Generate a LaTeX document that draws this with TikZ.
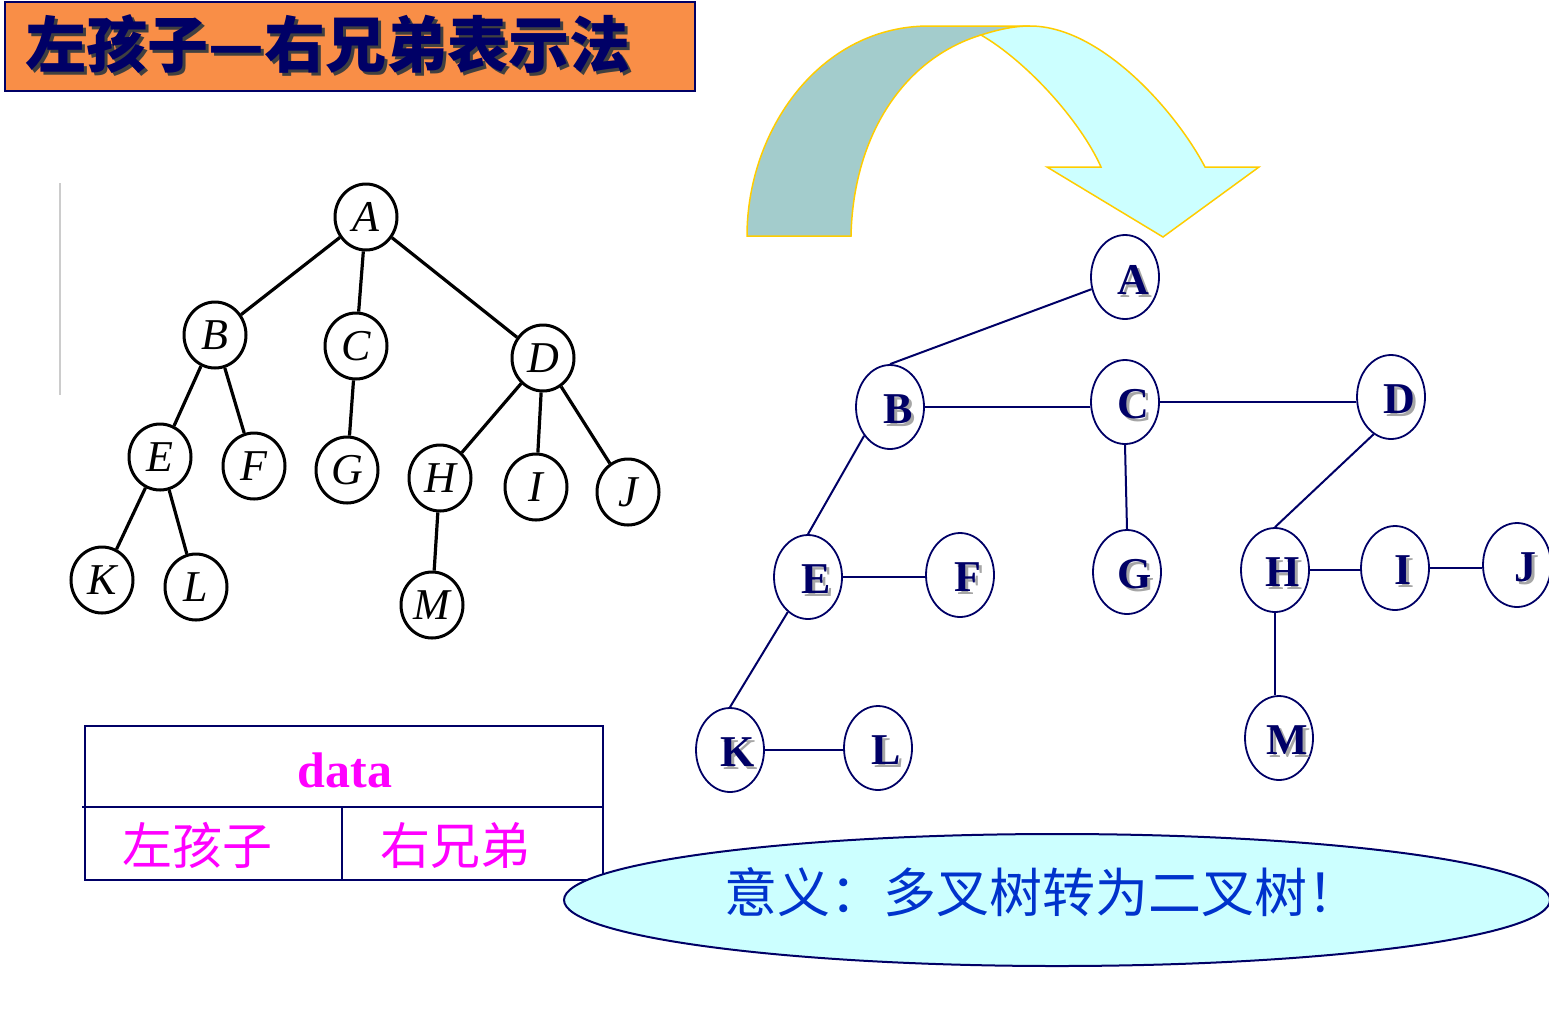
\documentclass[tikz,border=0pt]{standalone}
\usepackage{fontspec}
\setmainfont{Liberation Serif}
\newfontfamily\cjk{Noto Sans CJK SC}
\usepackage{xcolor}
\usetikzlibrary{shapes.geometric}

\definecolor{navy}{RGB}{0,0,102}
\definecolor{titleorange}{RGB}{249,142,71}
\definecolor{arrowgold}{RGB}{255,204,0}
\definecolor{arrowdark}{RGB}{163,204,204}
\definecolor{arrowlight}{RGB}{204,255,255}
\definecolor{textblue}{RGB}{0,51,204}
\definecolor{fieldpink}{RGB}{255,0,255}

% text with a drop shadow
\newcommand{\shadowed}[2]{\rlap{\kern3pt\raisebox{-3pt}{\textcolor{#1}{#2}}}#2}

\tikzset{
  treenode/.style={ellipse, draw, line width=3pt, minimum width=62, minimum height=66,
    inner sep=0pt, font=\fontsize{44}{50}\selectfont\itshape},
  treeedge/.style={line width=3.2pt},
  bnode/.style={ellipse, draw=navy, line width=1.8pt, minimum width=68, minimum height=84,
    inner sep=0pt, label={[font=\fontsize{44}{52}\selectfont\bfseries, text=navy,
    xshift=8pt, yshift=-4pt]center:\shadowed{gray!70}{#1}}},
  bedge/.style={navy, line width=2pt},
}

\begin{document}
\begin{tikzpicture}[x=1pt, y=-1pt]
    \useasboundingbox (0,0) rectangle (1549,1021);

    % Title
    \draw[navy, line width=2pt, fill=titleorange] (5,2) rectangle (695,91);
    \node[text=navy, font=\cjk\bfseries\fontsize{61}{66}\selectfont] (title) at (328,46)
        {\shadowed{black!75}{左孩子—右兄弟表示法}};

    % Scan edge
    \draw[gray!40, line width=2pt] (60,183) -- (60,395);

    % Ordinary tree
    \node[treenode] (A) at (366,217) {A};
    \node[treenode] (B) at (215,335) {B};
    \node[treenode] (C) at (356,346) {C};
    \node[treenode] (D) at (543,358) {D};
    \node[treenode] (E) at (160,457) {E};
    \node[treenode] (F) at (254,466) {F};
    \node[treenode] (G) at (347,470) {G};
    \node[treenode] (H) at (440,478) {H};
    \node[treenode] (I) at (536,487) {I};
    \node[treenode] (J) at (628,492) {J};
    \node[treenode] (K) at (102,580) {K};
    \node[treenode] (L) at (196,587) {L};
    \node[treenode] (M) at (432,605) {M};
    \foreach \u/\v in {A/B, A/C, A/D, B/E, B/F, C/G, D/H, D/I, D/J, E/K, E/L, H/M}
        \draw[treeedge] (\u) -- (\v);

    % Node layout table
    \draw[navy, line width=2pt] (85,726) rectangle (603,880);
    \draw[navy, line width=2pt] (82,807) -- (603,807);
    \draw[navy, line width=2pt] (342,807) -- (342,880);
    \node[text=fieldpink, font=\bfseries\fontsize{50}{56}\selectfont] (data) at (345,770) {data};
    \node[text=fieldpink, font=\cjk\fontsize{50}{56}\selectfont] (lchild) at (197,845) {左孩子};
    \node[text=fieldpink, font=\cjk\fontsize{50}{56}\selectfont] (rsib) at (455,845) {右兄弟};

    % Curved arrow
    \draw[arrowgold, line width=1.5pt, fill=arrowdark] (747,236)
        .. controls (747,130) and (820,26) .. (929,26) -- (1030,26) -- (981,35)
        .. controls (900,60) and (853,140) .. (851,236) -- cycle;
    \draw[arrowgold, line width=1.5pt, fill=arrowlight] (981,35)
        .. controls (1000,29) and (1015,26) .. (1030,26)
        .. controls (1100,26) and (1175,110) .. (1205,167)
        -- (1259,167) -- (1163,237) -- (1047,167) -- (1101,167)
        .. controls (1080,120) and (1026,61) .. (981,35) -- cycle;

    % Binary tree
    \node[bnode=A] (rA) at (1125,277) {};
    \node[bnode=B] (rB) at (890,407) {};
    \node[bnode=C] (rC) at (1125,402) {};
    \node[bnode=D] (rD) at (1391,397) {};
    \node[bnode=E] (rE) at (808,577) {};
    \node[bnode=F] (rF) at (960,575) {};
    \node[bnode=G] (rG) at (1127,572) {};
    \node[bnode=H] (rH) at (1275,570) {};
    \node[bnode=I] (rI) at (1395,568) {};
    \node[bnode=J] (rJ) at (1517,565) {};
    \node[bnode=K] (rK) at (730,750) {};
    \node[bnode=L] (rL) at (878,748) {};
    \node[bnode=M] (rM) at (1279,738) {};

    \draw[bedge] (rA.200) -- (rB.north);
    \draw[bedge] (rB.east) -- (rB.east -| rC.west);
    \draw[bedge] (rC.east) -- (rC.east -| rD.west);
    \draw[bedge] (rB.228) -- (rE.north);
    \draw[bedge] (rC.south) -- (rG.north);
    \draw[bedge] (rD.245) -- (rH.north);
    \draw[bedge] (rE.east) -- (rE.east -| rF.west);
    \draw[bedge] (rE.240) -- (rK.north);
    \draw[bedge] (rH.east) -- (rH.east -| rI.west);
    \draw[bedge] (rI.east) -- (rI.east -| rJ.west);
    \draw[bedge] (rH.south) -- (rH.south |- rM.north);
    \draw[bedge] (rK.east) -- (rK.east -| rL.west);

    % Meaning bubble
    \node[ellipse, draw=navy, line width=2pt, fill=arrowlight, minimum width=986,
        minimum height=132] (bubble) at (1057,900) {};
    \node[text=textblue, font=\cjk\fontsize{53}{58}\selectfont] (meaning) at (1042,892)
        {意义：多叉树转为二叉树！};
\end{tikzpicture}
\end{document}
